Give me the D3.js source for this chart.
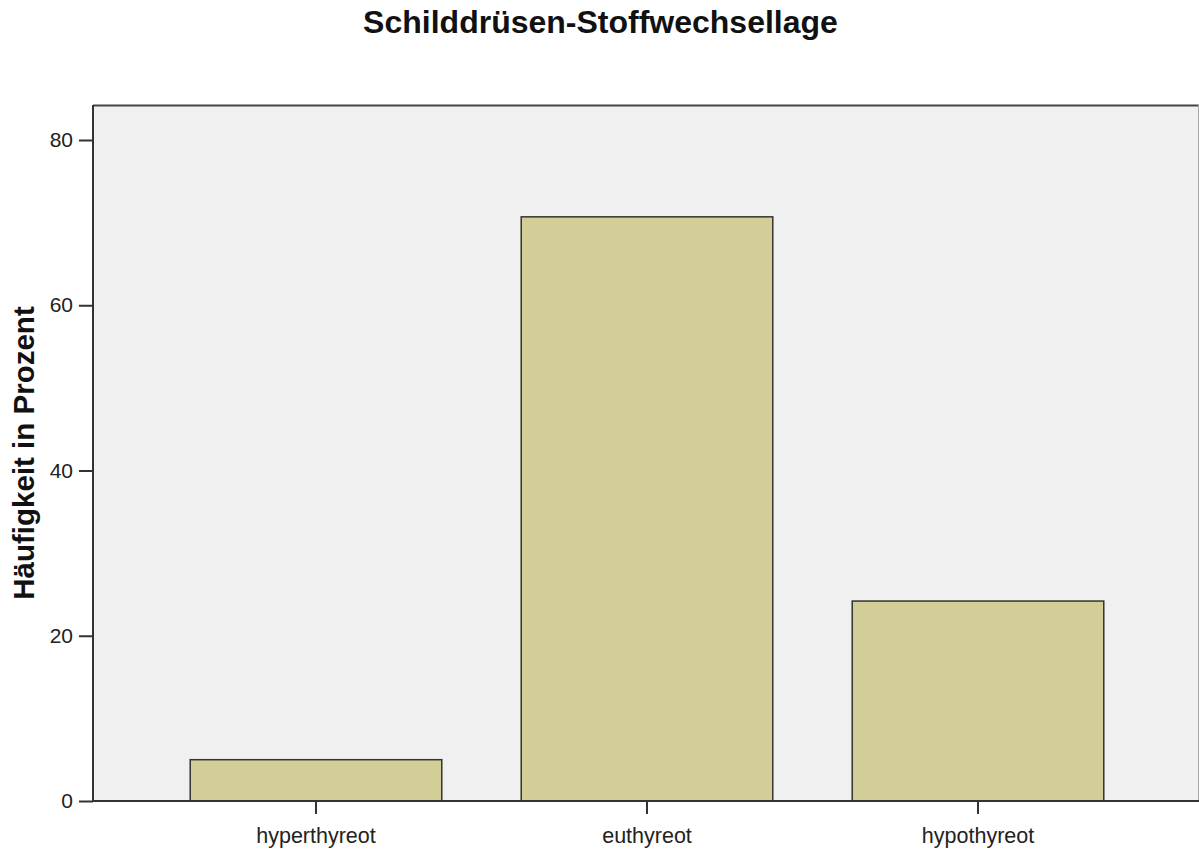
<!DOCTYPE html>
<html><head><meta charset="utf-8">
<script src="https://cdn.jsdelivr.net/npm/d3@7"></script>
<style>body{margin:0;background:#fff;} svg{display:block;font-family:"Liberation Sans",Arial,sans-serif;}</style>
</head><body>
<svg id="chart" width="1199" height="849"></svg>
<script>
const categories = ["hyperthyreot", "euthyreot", "hypothyreot"];
const values = [5.0, 70.7, 24.2];
const yTicks = [0, 20, 40, 60, 80];
const title = "Schilddrüsen-Stoffwechsellage";
const yLabel = "Häufigkeit in Prozent";

const svg = d3.select("#chart");
const plot = {left: 93, right: 1198, top: 105, bottom: 801};

const y = d3.scaleLinear().domain([0, 80]).range([plot.bottom, 140]);
const x = d3.scaleBand().domain(categories).range([150.5, 1143.5]).paddingInner(0.24).paddingOuter(0.12);

// background
svg.append("rect").attr("x", plot.left).attr("y", plot.top)
  .attr("width", plot.right - plot.left).attr("height", plot.bottom - plot.top)
  .attr("fill", "#f0f0f0");
// frame: top and right
svg.append("line").attr("x1", plot.left).attr("x2", 1199).attr("y1", plot.top + 0.5).attr("y2", plot.top + 0.5)
  .attr("stroke", "#444").attr("stroke-width", 2);
svg.append("line").attr("x1", plot.right + 0.5).attr("x2", plot.right + 0.5).attr("y1", plot.top).attr("y2", plot.bottom)
  .attr("stroke", "#aaa").attr("stroke-width", 1);

// bars
svg.append("g").selectAll("rect").data(categories).join("rect")
  .attr("x", d => x(d)).attr("width", x.bandwidth())
  .attr("y", (d, i) => y(values[i])).attr("height", (d, i) => y(0) - y(values[i]))
  .attr("fill", "#d3ce98").attr("stroke", "#333").attr("stroke-width", 1.5);

// y axis
const yAxis = d3.axisLeft(y).tickValues(yTicks).tickSize(14).tickPadding(6).tickFormat(d3.format("d"));
const gy = svg.append("g").attr("transform", `translate(${plot.left},0)`).call(yAxis);
gy.select(".domain").attr("d", `M0,${plot.top}V${plot.bottom}`).attr("stroke", "#333").attr("stroke-width", 2);
gy.selectAll(".tick line").attr("stroke", "#333").attr("stroke-width", 2);
gy.selectAll(".tick text").attr("font-size", 21).attr("fill", "#222").attr("font-family", "Liberation Sans, Arial, sans-serif");

// x axis
const xAxis = d3.axisBottom(x).tickSize(13).tickPadding(14);
const gx = svg.append("g").attr("transform", `translate(0,${plot.bottom})`).call(xAxis);
gx.select(".domain").attr("d", `M${plot.left},0H1199`).attr("stroke", "#333").attr("stroke-width", 2);
gx.selectAll(".tick line").attr("stroke", "#333").attr("stroke-width", 2);
gx.selectAll(".tick text").attr("font-size", 21.5).attr("fill", "#222").attr("font-family", "Liberation Sans, Arial, sans-serif");

// title
svg.append("text").attr("x", 600.5).attr("y", 33).attr("text-anchor", "middle")
  .attr("font-size", 32).attr("font-weight", "bold").attr("fill", "#111").text(title);

// y label
svg.append("text").attr("transform", `translate(34,${(plot.top + plot.bottom) / 2}) rotate(-90)`)
  .attr("text-anchor", "middle").attr("font-size", 29.5).attr("font-weight", "bold").attr("fill", "#111").text(yLabel);
</script>
</body></html>
